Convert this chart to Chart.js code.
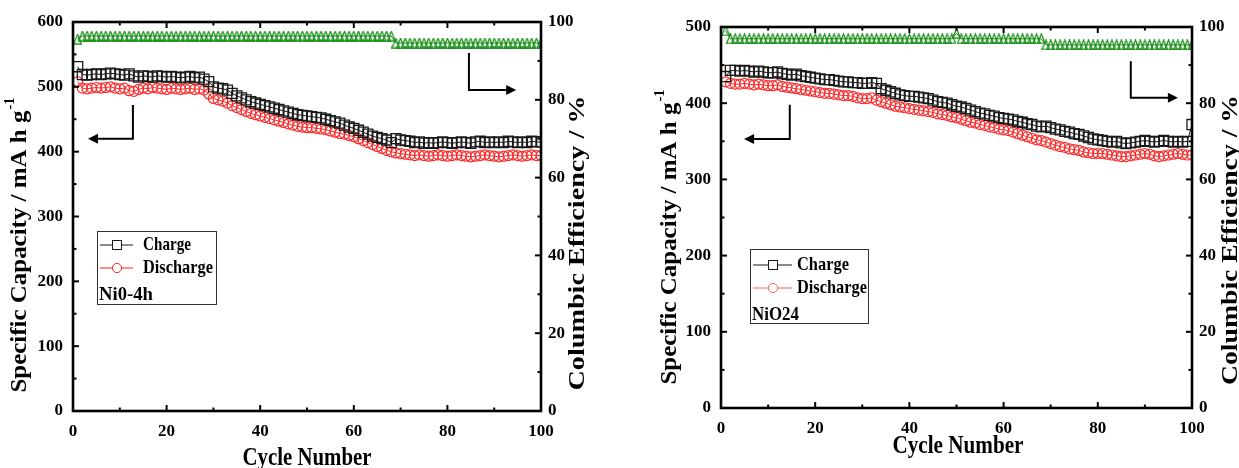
<!DOCTYPE html>
<html>
<head>
<meta charset="utf-8">
<script src="https://cdn.jsdelivr.net/npm/chart.js@4.4.1/dist/chart.umd.min.js"></script>
<style>
    html, body { margin: 0; padding: 0; background: #fff; }
    #wrap { position: relative; width: 1239px; height: 468px; overflow: hidden; }
    .panel { position: absolute; top: 0; }
</style>
</head>
<body>
<div id="wrap">
    <div class="panel" style="left:0;"><canvas id="chartA" width="620" height="468"></canvas></div>
    <div class="panel" style="left:640px;"><canvas id="chartB" width="599" height="468"></canvas></div>
</div>
<script>
// Cycle numbers (x categories)
const cycles = Array.from({ length: 100 }, (_, i) => i + 1);

// Tick values
const xMajor = [0, 20, 40, 60, 80, 100];
const xMinor = [10, 30, 50, 70, 90];
const ceMajor = [0, 20, 40, 60, 80, 100];
const ceMinor = [10, 30, 50, 70, 90];
const capMajorA = [0, 100, 200, 300, 400, 500, 600];
const capMinorA = [50, 150, 250, 350, 450, 550];
const capMajorB = [0, 100, 200, 300, 400, 500];
const capMinorB = [50, 150, 250, 350, 450];

// Ni0-4h, specific capacity (mA h g-1)
const chargeA = [
    531, 519, 518, 519, 520, 519, 520, 521, 520, 519,
    518, 520, 517, 515, 517, 516, 515, 517, 516, 515,
    516, 515, 514, 515, 516, 514, 515, 512, 508, 500,
    498, 497, 495, 490, 486, 483, 480, 477, 475, 473,
    471, 469, 467, 465, 463, 461, 459, 457, 456, 455,
    454, 453, 452, 450, 448, 446, 444, 441, 438, 436,
    433, 430, 427, 424, 422, 420, 418, 414, 420, 418,
    417, 416, 414, 415, 413, 414, 413, 414, 415, 414,
    413, 414, 415, 414, 413, 415, 416, 414, 415, 414,
    415, 414, 416, 415, 414, 415, 414, 416, 415, 415
];
const dischargeA = [
    508, 498, 497, 498, 499, 498, 499, 500, 498, 497,
    498, 494, 493, 496, 498, 497, 499, 498, 497, 496,
    498, 497, 496, 497, 498, 496, 497, 495, 489, 482,
    480, 478, 475, 471, 468, 465, 462, 459, 457, 455,
    453, 451, 449, 447, 445, 443, 441, 439, 438, 437,
    437, 436, 435, 434, 432, 430, 428, 427, 425, 423,
    420, 417, 414, 411, 408, 405, 402, 400, 398, 397,
    396, 395, 394, 395, 394, 393, 394, 395, 394, 393,
    394, 395, 394, 393, 392, 393, 394, 395, 394, 393,
    392, 393, 394, 395, 394, 393, 394, 395, 394, 394
];
// Ni0-4h, columbic efficiency (%)
const ceA = [
    95.6, 96.4, 96.4, 96.4, 96.4, 96.4, 96.4, 96.4, 96.4, 96.4,
    96.4, 96.4, 96.4, 96.4, 96.4, 96.4, 96.4, 96.4, 96.4, 96.4,
    96.4, 96.4, 96.4, 96.4, 96.4, 96.4, 96.4, 96.4, 96.4, 96.4,
    96.4, 96.4, 96.4, 96.4, 96.4, 96.4, 96.4, 96.4, 96.4, 96.4,
    96.4, 96.4, 96.4, 96.4, 96.4, 96.4, 96.4, 96.4, 96.4, 96.4,
    96.4, 96.4, 96.4, 96.4, 96.4, 96.4, 96.4, 96.4, 96.4, 96.4,
    96.4, 96.4, 96.4, 96.4, 96.4, 96.4, 96.4, 96.4, 94.6, 94.6,
    94.6, 94.6, 94.6, 94.6, 94.6, 94.6, 94.6, 94.6, 94.6, 94.6,
    94.6, 94.6, 94.6, 94.6, 94.6, 94.6, 94.6, 94.6, 94.6, 94.6,
    94.6, 94.6, 94.6, 94.6, 94.6, 94.6, 94.6, 94.6, 94.6, 94.6
];

// NiO24, specific capacity (mA h g-1)
const chargeB = [
    435, 443, 443, 442, 443, 442, 441, 442, 441, 440,
    440, 441, 439, 438, 437, 438, 436, 435, 434, 433,
    432, 431, 431, 430, 429, 428, 428, 427, 427, 426,
    426, 427, 426, 419, 417, 415, 413, 411, 410, 409,
    409, 408, 407, 406, 404, 402, 401, 400, 398, 396,
    395, 393, 391, 389, 387, 386, 384, 383, 381, 380,
    379, 378, 376, 375, 373, 372, 370, 369, 370, 368,
    366, 365, 363, 362, 360, 359, 357, 355, 353, 352,
    351, 350, 349, 350, 348, 347, 348, 349, 350, 351,
    350, 349, 350, 351, 350, 349, 350, 349, 350, 372
];
const dischargeB = [
    428, 426, 425, 425, 426, 425, 424, 425, 424, 423,
    423, 424, 422, 421, 420, 419, 418, 417, 416, 415,
    414, 413, 413, 412, 411, 410, 410, 409, 407, 406,
    406, 407, 404, 402, 400, 398, 396, 395, 394, 393,
    392, 391, 390, 389, 388, 386, 385, 384, 382, 381,
    379, 377, 375, 374, 372, 371, 369, 368, 366, 365,
    364, 362, 360, 358, 356, 354, 352, 351, 349, 347,
    345, 343, 342, 340, 339, 338, 336, 335, 334, 334,
    334, 333, 332, 331, 330, 330, 331, 332, 333, 334,
    333, 331, 330, 331, 332, 333, 334, 333, 332, 332
];
// NiO24, columbic efficiency (%)
const ceB = [
    99.0, 96.9, 96.9, 96.9, 96.9, 96.9, 96.9, 96.9, 96.9, 96.9,
    96.9, 96.9, 96.9, 96.9, 96.9, 96.9, 96.9, 96.9, 96.9, 96.9,
    96.9, 96.9, 96.9, 96.9, 96.9, 96.9, 96.9, 96.9, 96.9, 96.9,
    96.9, 96.9, 96.9, 96.9, 96.9, 96.9, 96.9, 96.9, 96.9, 96.9,
    96.9, 96.9, 96.9, 96.9, 96.9, 96.9, 96.9, 96.9, 96.9, 98.3,
    96.9, 96.9, 96.9, 96.9, 96.9, 96.9, 96.9, 96.9, 96.9, 96.9,
    96.9, 96.9, 96.9, 96.9, 96.9, 96.9, 96.9, 96.9, 95.3, 95.3,
    95.3, 95.3, 95.3, 95.3, 95.3, 95.3, 95.3, 95.3, 95.3, 95.3,
    95.3, 95.3, 95.3, 95.3, 95.3, 95.3, 95.3, 95.3, 95.3, 95.3,
    95.3, 95.3, 95.3, 95.3, 95.3, 95.3, 95.3, 95.3, 95.3, 95.3
];

const SERIF = '"Liberation Serif", "Times New Roman", serif';
const BLACK = '#1a1a1a';
const RED = '#ff2a2a';
const GREEN = '#118a11';

// narrow hollow triangle marker
function triangleMarker() {
    const c = document.createElement('canvas');
    c.width = 9; c.height = 11;
    const g = c.getContext('2d');
    g.strokeStyle = GREEN;
    g.lineWidth = 1.2;
    g.beginPath();
    g.moveTo(4.5, 0.8);
    g.lineTo(8.4, 10.2);
    g.lineTo(0.6, 10.2);
    g.closePath();
    g.stroke();
    return c;
}
const triMark = triangleMarker();

function toPoints(values) {
    return values.map((v, i) => ({ x: cycles[i], y: v }));
}

function drawStretched(ctx, str, x, y, font, opt) {
    opt = opt || {};
    ctx.save();
    ctx.font = font;
    const w = ctx.measureText(str).width;
    const kx = opt.len ? opt.len / w : 1;
    ctx.translate(x, y);
    ctx.rotate(opt.rot || 0);
    ctx.scale(kx, opt.sy || 1);
    ctx.textAlign = opt.align || 'center';
    ctx.textBaseline = 'middle';
    ctx.fillStyle = '#000';
    ctx.fillText(str, 0, 0);
    ctx.restore();
}

function makeDecor(cfg) {
    return {
        id: 'decor',
        afterDraw(chart) {
            const ctx = chart.ctx, a = chart.chartArea;
            const sx = chart.scales.x, sy = chart.scales.y, sy1 = chart.scales.y1;
            const seg = (x0, y0, x1, y1) => { ctx.beginPath(); ctx.moveTo(x0, y0); ctx.lineTo(x1, y1); ctx.stroke(); };

            ctx.save();
            ctx.strokeStyle = '#000';
            ctx.fillStyle = '#000';

            // inward ticks
            ctx.lineWidth = 2;
            xMajor.forEach(v => { const p = sx.getPixelForValue(v); seg(p, a.bottom, p, a.bottom - 6); seg(p, a.top, p, a.top + 6); });
            xMinor.forEach(v => { const p = sx.getPixelForValue(v); seg(p, a.bottom, p, a.bottom - 3.5); seg(p, a.top, p, a.top + 3.5); });
            cfg.capMajor.forEach(v => { const p = sy.getPixelForValue(v); seg(a.left, p, a.left + 6, p); });
            cfg.capMinor.forEach(v => { const p = sy.getPixelForValue(v); seg(a.left, p, a.left + 3.5, p); });
            ceMajor.forEach(v => { const p = sy1.getPixelForValue(v); seg(a.right, p, a.right - 6, p); });
            ceMinor.forEach(v => { const p = sy1.getPixelForValue(v); seg(a.right, p, a.right - 3.5, p); });

            // frame
            ctx.lineWidth = 2.6;
            ctx.strokeRect(a.left, a.top, a.right - a.left, a.bottom - a.top);

            // arrows
            ctx.lineWidth = 2;
            [cfg.arrowL, cfg.arrowR].forEach(ar => {
                const scale = chart.scales[ar.axis];
                const xv = sx.getPixelForValue(ar.x0);
                const yt = scale.getPixelForValue(ar.yTop);
                const yb = scale.getPixelForValue(ar.yBot);
                const xt = sx.getPixelForValue(ar.xTip);
                const dir = xt < xv ? -1 : 1;
                ctx.beginPath();
                ctx.moveTo(xv, yt);
                ctx.lineTo(xv, yb);
                ctx.lineTo(xt - dir * 8, yb);
                ctx.stroke();
                ctx.beginPath();
                ctx.moveTo(xt, yb);
                ctx.lineTo(xt - dir * 10, yb - 5);
                ctx.lineTo(xt - dir * 10, yb + 5);
                ctx.closePath();
                ctx.fill();
            });

            // axis titles
            const bold = px => 'bold ' + px + 'px ' + SERIF;
            const t = cfg.titles;
            drawStretched(ctx, 'Cycle Number', t.x[0], t.x[1], bold(22), { len: t.x[2], sy: 1.15 });
            drawStretched(ctx, 'Columbic Efficiency / %', t.y1[0], t.y1[1], bold(24), { len: t.y1[2], rot: -Math.PI / 2 });

            // left title with superscript
            ctx.save();
            ctx.translate(t.y[0], t.y[1]);
            ctx.rotate(-Math.PI / 2);
            ctx.font = bold(24);
            const main = 'Specific Capacity / mA h g';
            const wm = ctx.measureText(main).width;
            ctx.font = bold(14);
            const ws = ctx.measureText('-1').width;
            const total = wm + ws + 1;
            ctx.scale(t.y[2] / total, 1);
            ctx.textAlign = 'left';
            ctx.textBaseline = 'middle';
            ctx.font = bold(24);
            ctx.fillText(main, -total / 2, 0);
            ctx.font = bold(14);
            ctx.fillText('-1', -total / 2 + wm + 1, -10);
            ctx.restore();

            // legend box
            const L = cfg.legend;
            ctx.lineWidth = 1;
            ctx.strokeStyle = '#333';
            ctx.strokeRect(L.box[0] + 0.5, L.box[1] + 0.5, L.box[2] - L.box[0], L.box[3] - L.box[1]);
            // Charge sample
            ctx.strokeStyle = BLACK;
            seg(L.line[0], L.rows[0], L.line[1], L.rows[0]);
            ctx.fillStyle = '#fff';
            ctx.fillRect(L.mark - 4.5, L.rows[0] - 4.5, 9, 9);
            ctx.strokeRect(L.mark - 4.5, L.rows[0] - 4.5, 9, 9);
            // Discharge sample
            ctx.strokeStyle = L.red;
            seg(L.line[0], L.rows[1], L.line[1], L.rows[1]);
            ctx.beginPath();
            ctx.arc(L.mark, L.rows[1], 4.6, 0, Math.PI * 2);
            ctx.fill();
            ctx.stroke();
            drawStretched(ctx, 'Charge', L.text, L.rows[0], bold(17), { len: L.lens[0], sy: 1.12, align: 'left' });
            drawStretched(ctx, 'Discharge', L.text, L.rows[1], bold(17), { len: L.lens[1], sy: 1.12, align: 'left' });
            drawStretched(ctx, cfg.sample, L.label, L.rows[2], bold(17), { len: L.lens[2], sy: 1.12, align: 'left' });

            ctx.restore();
        }
    };
}

function makePanel(canvasId, cfg) {
    const tickFont = { family: SERIF, size: 17, weight: 'bold' };
    new Chart(document.getElementById(canvasId), {
        type: 'line',
        data: {
            datasets: [
                {
                    label: 'Charge', data: toPoints(cfg.charge), yAxisID: 'y',
                    borderColor: BLACK, borderWidth: 1,
                    pointStyle: 'rect', pointRadius: 7.1,
                    pointBorderColor: BLACK, pointBackgroundColor: 'rgba(255,255,255,0)', pointBorderWidth: 1.3
                },
                {
                    label: 'Discharge', data: toPoints(cfg.discharge), yAxisID: 'y',
                    borderColor: RED, borderWidth: 1,
                    pointStyle: 'circle', pointRadius: 5,
                    pointBorderColor: RED, pointBackgroundColor: 'rgba(255,255,255,0)', pointBorderWidth: 1.2
                },
                {
                    label: 'Columbic Efficiency', data: toPoints(cfg.ce), yAxisID: 'y1',
                    borderColor: GREEN, borderWidth: 1,
                    pointStyle: triMark
                }
            ]
        },
        options: {
            responsive: false,
            animation: false,
            devicePixelRatio: 1,
            events: [],
            layout: { padding: { top: cfg.padTop, left: 0, right: 0, bottom: 0 } },
            plugins: { legend: { display: false }, tooltip: { enabled: false } },
            scales: {
                x: {
                    type: 'linear', min: 0, max: 100,
                    grid: { display: false, drawTicks: false },
                    border: { display: false },
                    ticks: { stepSize: 20, font: tickFont, color: '#000', padding: 10, maxRotation: 0 },
                    afterFit: s => { s.height = cfg.xHeight; }
                },
                y: {
                    position: 'left', min: 0, max: cfg.capMax,
                    grid: { display: false, drawTicks: false },
                    border: { display: false },
                    ticks: { stepSize: 100, font: tickFont, color: '#000', padding: 10 },
                    afterFit: s => { s.width = cfg.yWidth; }
                },
                y1: {
                    position: 'right', min: 0, max: 100,
                    grid: { display: false, drawTicks: false },
                    border: { display: false },
                    ticks: { stepSize: 20, font: tickFont, color: '#000', padding: 7 },
                    afterFit: s => { s.width = cfg.y1Width; }
                }
            }
        },
        plugins: [makeDecor(cfg)]
    });
}

makePanel('chartA', {
    charge: chargeA, discharge: dischargeA, ce: ceA,
    capMax: 600, capMajor: capMajorA, capMinor: capMinorA,
    padTop: 22, xHeight: 57, yWidth: 73, y1Width: 79,
    sample: 'Ni0-4h',
    arrowL: { axis: 'y', x0: 12.8, yTop: 472, yBot: 420, xTip: 3.2 },
    arrowR: { axis: 'y1', x0: 84.6, yTop: 92, yBot: 82.5, xTip: 94.7 },
    titles: { x: [307, 458, 129], y: [20, 245, 295], y1: [578, 243, 295] },
    legend: {
        box: [97, 231, 216, 304], rows: [245, 268, 295],
        line: [100, 133], mark: 117, text: 143, label: 99,
        lens: [48, 70, 54], red: '#ff2020'
    }
});

makePanel('chartB', {
    charge: chargeB, discharge: dischargeB, ce: ceB,
    capMax: 500, capMajor: capMajorB, capMinor: capMinorB,
    padTop: 27, xHeight: 60, yWidth: 81, y1Width: 47,
    sample: 'NiO24',
    arrowL: { axis: 'y', x0: 14.6, yTop: 398, yBot: 353, xTip: 4.9 },
    arrowR: { axis: 'y1', x0: 87, yTop: 91, yBot: 81.4, xTip: 97 },
    titles: { x: [318, 446, 131], y: [30, 237, 295], y1: [591, 240, 290] },
    legend: {
        box: [110, 249, 228, 323], rows: [265, 288, 315],
        line: [113, 152], mark: 133, text: 157, label: 112,
        lens: [52, 70, 47], red: '#f46060'
    }
});
</script>
</body>
</html>
